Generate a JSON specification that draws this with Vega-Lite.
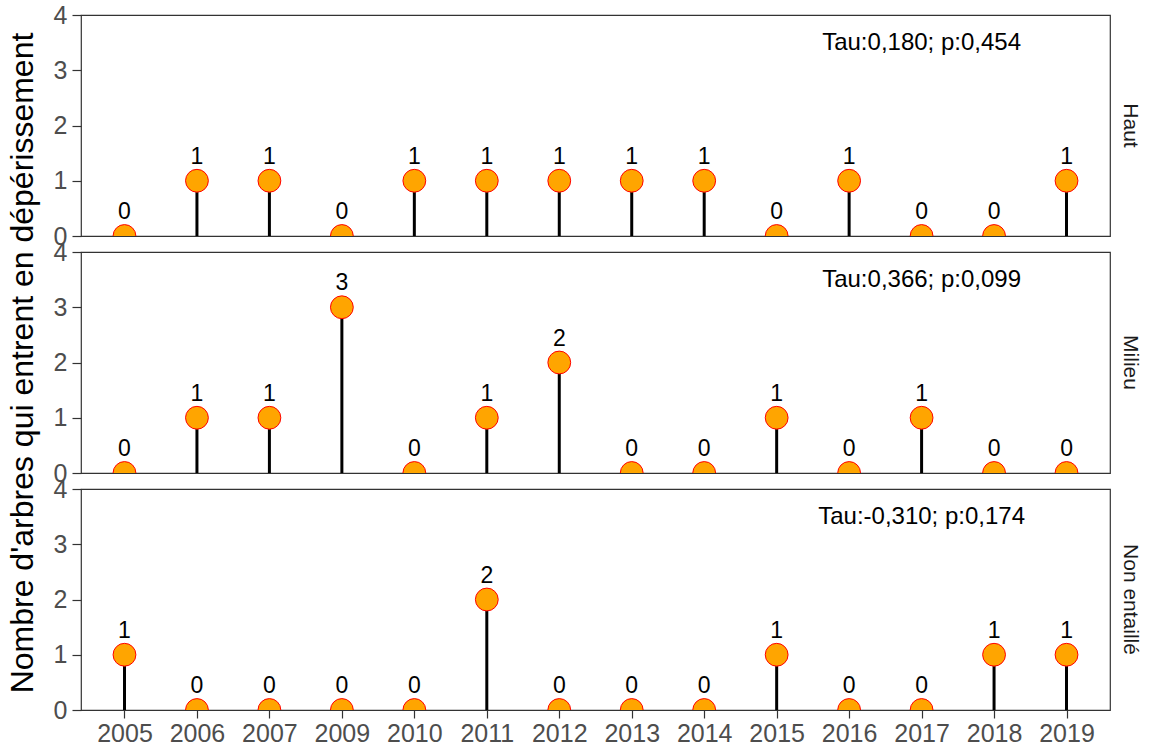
{
  "$schema": "https://vega.github.io/schema/vega-lite/v6.json",
  "padding": {"left": 6, "top": 3, "right": 5, "bottom": 5},
  "bounds": "flush",
  "background": "white",
  "data": {
    "values": [
      {"zone": "Haut", "year": "2005", "n": 0},
      {"zone": "Haut", "year": "2006", "n": 1},
      {"zone": "Haut", "year": "2007", "n": 1},
      {"zone": "Haut", "year": "2009", "n": 0},
      {"zone": "Haut", "year": "2010", "n": 1},
      {"zone": "Haut", "year": "2011", "n": 1},
      {"zone": "Haut", "year": "2012", "n": 1},
      {"zone": "Haut", "year": "2013", "n": 1},
      {"zone": "Haut", "year": "2014", "n": 1},
      {"zone": "Haut", "year": "2015", "n": 0},
      {"zone": "Haut", "year": "2016", "n": 1},
      {"zone": "Haut", "year": "2017", "n": 0},
      {"zone": "Haut", "year": "2018", "n": 0},
      {"zone": "Haut", "year": "2019", "n": 1},
      {"zone": "Milieu", "year": "2005", "n": 0},
      {"zone": "Milieu", "year": "2006", "n": 1},
      {"zone": "Milieu", "year": "2007", "n": 1},
      {"zone": "Milieu", "year": "2009", "n": 3},
      {"zone": "Milieu", "year": "2010", "n": 0},
      {"zone": "Milieu", "year": "2011", "n": 1},
      {"zone": "Milieu", "year": "2012", "n": 2},
      {"zone": "Milieu", "year": "2013", "n": 0},
      {"zone": "Milieu", "year": "2014", "n": 0},
      {"zone": "Milieu", "year": "2015", "n": 1},
      {"zone": "Milieu", "year": "2016", "n": 0},
      {"zone": "Milieu", "year": "2017", "n": 1},
      {"zone": "Milieu", "year": "2018", "n": 0},
      {"zone": "Milieu", "year": "2019", "n": 0},
      {"zone": "Non entaillé", "year": "2005", "n": 1},
      {"zone": "Non entaillé", "year": "2006", "n": 0},
      {"zone": "Non entaillé", "year": "2007", "n": 0},
      {"zone": "Non entaillé", "year": "2009", "n": 0},
      {"zone": "Non entaillé", "year": "2010", "n": 0},
      {"zone": "Non entaillé", "year": "2011", "n": 2},
      {"zone": "Non entaillé", "year": "2012", "n": 0},
      {"zone": "Non entaillé", "year": "2013", "n": 0},
      {"zone": "Non entaillé", "year": "2014", "n": 0},
      {"zone": "Non entaillé", "year": "2015", "n": 1},
      {"zone": "Non entaillé", "year": "2016", "n": 0},
      {"zone": "Non entaillé", "year": "2017", "n": 0},
      {"zone": "Non entaillé", "year": "2018", "n": 1},
      {"zone": "Non entaillé", "year": "2019", "n": 1},
      {"zone": "Haut", "year": "2017", "stat": "Tau:0,180; p:0,454"},
      {"zone": "Milieu", "year": "2017", "stat": "Tau:0,366; p:0,099"},
      {"zone": "Non entaillé", "year": "2017", "stat": "Tau:-0,310; p:0,174"}
    ]
  },
  "facet": {
    "row": {
      "field": "zone",
      "type": "nominal",
      "sort": ["Haut", "Milieu", "Non entaillé"],
      "title": "Nombre d'arbres qui entrent en dépérissement",
      "header": {
        "titleOrient": "left",
        "titleFont": "Liberation Sans",
        "titleFontSize": 32,
        "titleFontWeight": "normal",
        "titleColor": "black",
        "titlePadding": 3,
        "labelOrient": "right",
        "labelAngle": 90,
        "labelAlign": "center",
        "labelFont": "Liberation Sans",
        "labelFontSize": 21,
        "labelColor": "#1A1A1A",
        "labelPadding": 10
      }
    }
  },
  "spacing": 16,
  "spec": {
    "width": 1029,
    "height": 221,
    "encoding": {
      "x": {
        "field": "year",
        "type": "ordinal",
        "sort": ["2005", "2006", "2007", "2009", "2010", "2011", "2012", "2013", "2014", "2015", "2016", "2017", "2018", "2019"],
        "scale": {"type": "point", "padding": 0.6},
        "axis": {
          "title": null,
          "labelAngle": 0,
          "labelFont": "Liberation Sans",
          "labelFontSize": 25,
          "labelColor": "#4D4D4D",
          "labelPadding": 3,
          "tickColor": "#333333",
          "tickSize": 8,
          "tickWidth": 1.2,
          "domain": false,
          "grid": false
        }
      }
    },
    "layer": [
      {
        "transform": [{"filter": "isValid(datum.n)"}],
        "mark": {"type": "rule", "color": "black", "strokeWidth": 3},
        "encoding": {
          "y": {
            "field": "n",
            "type": "quantitative",
            "scale": {"domain": [0, 4], "nice": false, "zero": true},
            "axis": {
              "title": null,
              "values": [0, 1, 2, 3, 4],
              "format": "d",
              "labelFont": "Liberation Sans",
              "labelFontSize": 25,
              "labelColor": "#4D4D4D",
              "labelPadding": 5,
              "labelBaseline": "middle",
              "labelFlush": false,
              "tickColor": "#333333",
              "tickSize": 9,
              "tickWidth": 1.2,
              "domain": false,
              "grid": false
            }
          },
          "y2": {"datum": 0}
        }
      },
      {
        "transform": [{"filter": "isValid(datum.n)"}],
        "mark": {"type": "point", "shape": "circle", "filled": true, "fill": "orange", "stroke": "red", "strokeWidth": 1, "opacity": 1, "size": 520, "clip": true},
        "encoding": {
          "y": {"field": "n", "type": "quantitative"}
        }
      },
      {
        "transform": [{"filter": "isValid(datum.n)"}],
        "mark": {"type": "text", "font": "Liberation Sans", "fontSize": 23, "color": "black", "baseline": "alphabetic", "dy": -17},
        "encoding": {
          "y": {"field": "n", "type": "quantitative"},
          "text": {"field": "n", "type": "quantitative"}
        }
      },
      {
        "transform": [{"filter": "isValid(datum.stat)"}],
        "mark": {"type": "text", "font": "Liberation Sans", "fontSize": 24, "color": "black", "baseline": "middle", "align": "center"},
        "encoding": {
          "y": {"datum": 3.5},
          "text": {"field": "stat", "type": "nominal"}
        }
      }
    ]
  },
  "config": {
    "view": {"stroke": "#333333", "strokeWidth": 1.2},
    "font": "Liberation Sans"
  }
}
